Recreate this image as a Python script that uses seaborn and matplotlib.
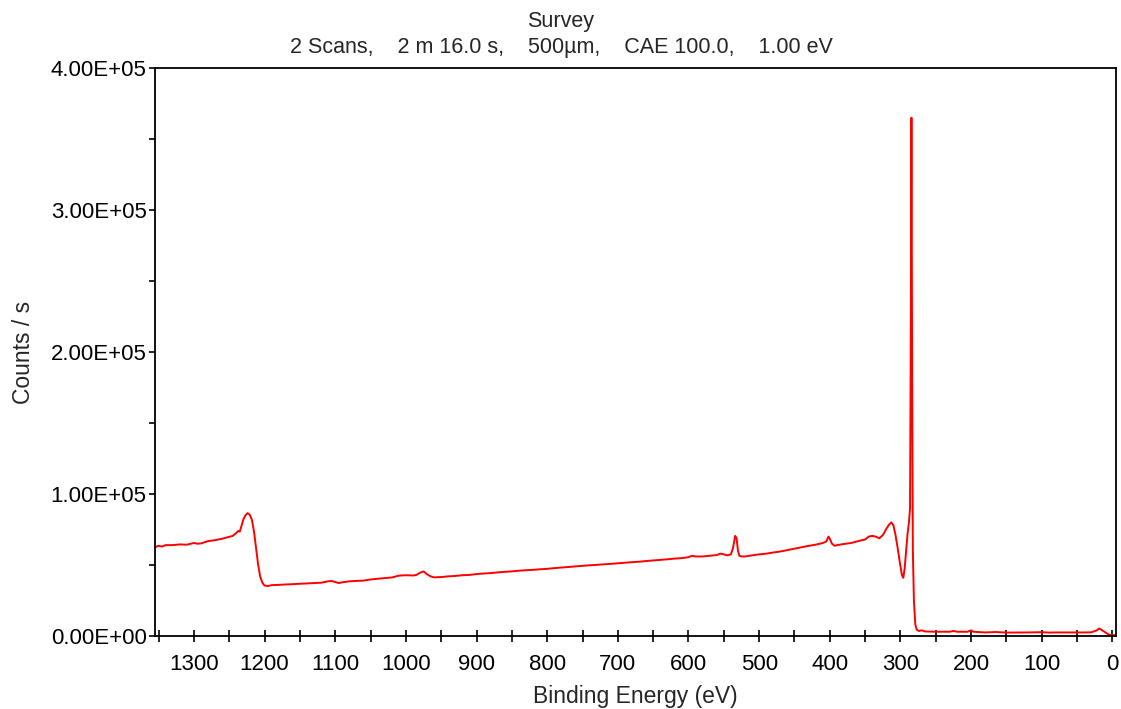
import matplotlib
matplotlib.use("Agg")
import matplotlib.pyplot as plt
import seaborn as sns
import numpy as np
import pandas as pd
from matplotlib.ticker import MultipleLocator, FuncFormatter

binding_energy = [
    1355, 1350, 1345, 1340, 1330, 1320, 1310, 1300, 1295, 1290, 1280, 1270, 1260, 1250,
    1245, 1240, 1237, 1235, 1233, 1230, 1227, 1224, 1221, 1218, 1215, 1212, 1209, 1206,
    1203, 1200, 1195, 1190, 1180, 1170, 1160, 1150, 1140, 1130, 1120, 1110, 1105, 1100,
    1095, 1090, 1080, 1070, 1060, 1050, 1040, 1030, 1020, 1010, 1000, 990, 985, 980,
    975, 970, 965, 960, 950, 940, 930, 920, 910, 900, 890, 880, 870, 860, 850, 840, 830,
    820, 810, 800, 790, 780, 770, 760, 750, 740, 730, 720, 710, 700, 690, 680, 670, 660,
    650, 640, 630, 620, 610, 600, 595, 590, 580, 570, 560, 555, 550, 545, 540, 537, 534,
    532, 530, 528, 525, 520, 510, 500, 490, 480, 470, 460, 450, 440, 430, 420, 410, 405,
    402, 400, 397, 393, 390, 380, 370, 360, 350, 345, 340, 335, 330, 325, 320, 316, 313,
    310, 307, 304, 301, 298, 296, 294, 292, 290, 288, 286.5, 285.5, 284.5, 283.5, 282.5,
    281, 279, 277, 274, 270, 265, 250, 230, 225, 220, 205, 200, 197, 180, 165, 150, 120,
    100, 90, 80, 60, 40, 30, 22, 19, 16, 12, 8, 4, -5,
]

counts_k = [
    62.5, 63.5, 63.0, 64.0, 64.0, 64.5, 64.3, 65.5, 65.0, 65.2, 66.8, 67.5, 68.5, 69.8,
    70.5, 72.5, 74.0, 73.5, 77.0, 82.0, 85.0, 86.5, 85.5, 82.0, 74.0, 62.0, 50.0, 41.5,
    37.5, 35.5, 35.2, 35.8, 36.0, 36.3, 36.5, 36.8, 37.0, 37.3, 37.5, 38.5, 38.8, 38.0,
    37.3, 37.8, 38.5, 38.8, 39.0, 39.8, 40.3, 40.8, 41.2, 42.5, 42.8, 42.6, 43.0, 44.5,
    45.5, 43.5, 42.0, 41.3, 41.5, 42.0, 42.3, 42.8, 43.0, 43.6, 44.0, 44.3, 44.8, 45.2,
    45.5, 46.0, 46.3, 46.6, 47.0, 47.3, 47.8, 48.2, 48.6, 49.0, 49.4, 49.8, 50.1, 50.5,
    50.8, 51.2, 51.6, 52.0, 52.3, 52.8, 53.2, 53.6, 54.0, 54.5, 54.8, 55.5, 56.5, 56.0,
    56.0, 56.5, 57.0, 58.0, 57.5, 56.8, 57.5, 62.0, 70.5, 69.0, 60.0, 56.5, 56.0, 56.0,
    56.8, 57.5, 58.0, 58.8, 59.5, 60.5, 61.5, 62.5, 63.5, 64.3, 65.5, 66.5, 70.0, 68.5,
    65.0, 63.5, 64.0, 64.8, 65.5, 66.8, 68.0, 70.0, 70.5, 70.0, 68.8, 71.0, 75.5, 78.5,
    80.0, 78.0, 71.0, 62.0, 52.0, 43.0, 41.0, 48.0, 60.0, 72.0, 80.0, 90.0, 200.0, 365.0,
    180.0, 60.0, 25.0, 8.0, 4.5, 3.5, 4.0, 3.2, 3.0, 3.0, 3.6, 3.0, 3.0, 4.0, 3.0, 2.5,
    2.8, 2.4, 2.5, 2.7, 2.4, 2.5, 2.5, 2.5, 2.6, 4.0, 5.3, 4.5, 3.2, 1.8, 0.8, 0.5,
]

y_ticks = [0, 100000, 200000, 300000, 400000]
x_ticks = [1300, 1200, 1100, 1000, 900, 800, 700, 600, 500, 400, 300, 200, 100, 0]

title_text = "Survey\n2 Scans,    2 m 16.0 s,    500\u00b5m,    CAE 100.0,    1.00 eV"
x_label = "Binding Energy (eV)"
y_label = "Counts / s"

df = pd.DataFrame({"be": binding_energy, "counts": np.array(counts_k) * 1000.0})

sns.set_style("white")
plt.rcParams["font.family"] = ["Liberation Sans", "DejaVu Sans"]

fig = plt.figure(figsize=(11.21, 7.09), dpi=100)
ax = fig.add_axes([155 / 1121, 1 - 636 / 709, (1116 - 155) / 1121, (636 - 68) / 709])

sns.lineplot(data=df, x="be", y="counts", ax=ax, color="#ff0000", linewidth=1.4,
             estimator=None, sort=False)

ax.set_xlim(1355, -5)
ax.set_ylim(0, 400000)
ax.set_xticks(x_ticks)
ax.xaxis.set_minor_locator(MultipleLocator(50))
ax.set_yticks(y_ticks)
ax.yaxis.set_minor_locator(MultipleLocator(50000))
ax.yaxis.set_major_formatter(FuncFormatter(lambda v, p: f"{v:.2E}"))

ax.tick_params(axis="x", which="both", direction="inout", length=8, width=1.2,
               labelsize=16, pad=9, colors="black", bottom=True)
ax.tick_params(axis="y", which="both", direction="out", length=4, width=1.2,
               labelsize=16, pad=2, colors="black", left=True)

for s in ax.spines.values():
    s.set_color("black")
    s.set_linewidth(1.3)

ax.set_xlabel(x_label, fontsize=16.5, labelpad=7)
ax.set_ylabel(y_label, fontsize=16.5, labelpad=11)
ax.set_title(title_text, fontsize=15.5, pad=11, linespacing=1.3,
             x=(561 - 155) / (1116 - 155))

fig.savefig("out.png", dpi=100, facecolor="white")
